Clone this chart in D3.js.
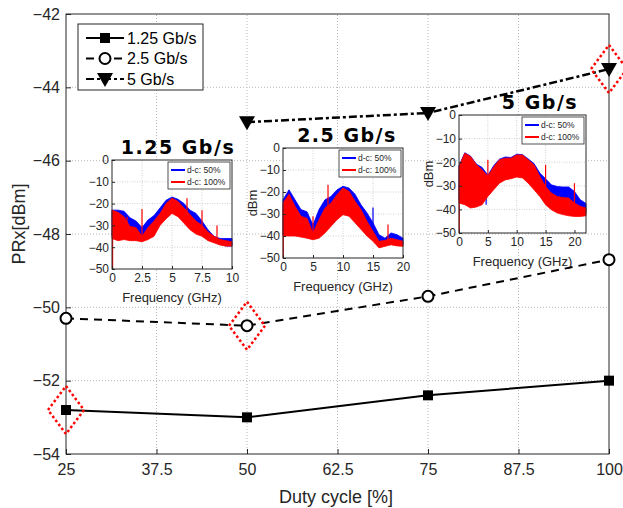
<!DOCTYPE html>
<html>
<head>
<meta charset="utf-8">
<script src="https://cdn.jsdelivr.net/npm/d3@7"></script>
<style>
body { margin: 0; background: #fff; }
text { font-family: "Liberation Sans", Arial, sans-serif; }
</style>
</head>
<body>
<svg width="623" height="508"></svg>
<script>
// main chart data
var dutyCycle = [25, 50, 75, 100];
var prx125 = [-52.8, -53.0, -52.4, -52.0];
var prx25 = [-50.3, -50.5, -49.7, -48.7];
var duty5 = [50, 75, 100];
var prx5 = [-44.95, -44.7, -43.5];
var marked = [[25, -52.8], [50, -50.5], [100, -43.5]];
var xTicks = [25, 37.5, 50, 62.5, 75, 87.5, 100];
var yTicks = [-54, -52, -50, -48, -46, -44, -42];

// inset spectra (upper / lower envelope of the noisy traces, dBm)
var s1Freq = [0, 0.5, 1, 1.5, 2, 2.5, 3, 3.5, 4, 4.5, 5, 5.5, 6, 6.5, 7, 7.5, 8, 8.5, 9, 9.5, 10];
var s1BlueTop = [-23, -23, -23.5, -26.5, -28, -31, -27.5, -25.5, -22, -18.5, -17, -18, -20, -23, -24.5, -28, -32, -35, -36, -36, -36];
var s1BlueLow = [-35, -36, -35.5, -36, -36, -36.5, -35.5, -34, -29, -26, -23.5, -25, -28, -31, -33, -34, -36, -37.5, -38.5, -39.5, -39.5];
var s1RedTop = [-23, -24, -26, -30.5, -31, -35, -31, -28, -24.5, -20, -17.5, -19, -22, -25, -28, -30, -33, -35, -36.5, -37, -37.5];
var s1RedLow = [-36, -37, -36.5, -37, -37, -37.5, -36.5, -35, -30, -27, -24.5, -26, -29, -32, -34, -35, -37, -38, -39, -39.5, -39.5];
var s1Spikes = [[0.05, -50, -26, "red"], [1.25, -36, -26, "red"], [2.5, -37, -22.5, "red"], [6.25, -28, -17.5, "red"], [7.5, -34, -23, "red"], [8.75, -37, -30, "red"]];

var s2Freq = [0, 1, 2, 3, 4, 5, 6, 7, 8, 9, 10, 11, 12, 13, 14, 15, 16, 17, 18, 19, 20];
var s2BlueTop = [-23.5, -19, -23.5, -28, -29, -35, -28, -23.5, -22, -19, -17.4, -18.2, -21, -25.8, -29.5, -34, -39.4, -41, -38.6, -39.4, -41];
var s2BlueLow = [-39, -39, -39, -39.5, -40, -40.5, -40, -37.5, -34.5, -31.5, -29.5, -30, -33, -36, -39, -41.5, -44.5, -44, -43, -43.5, -44];
var s2RedTop = [-25, -21, -26.5, -31, -32, -38.6, -32.6, -27.3, -25, -21.2, -18.2, -19.7, -24.2, -28, -33.3, -37.9, -42.4, -42, -41, -41.7, -42.4];
var s2RedLow = [-40, -40, -40, -40.5, -41, -41.7, -41, -38.6, -35.6, -32.6, -30.3, -31, -34, -37, -40, -42.4, -45.4, -44.7, -44, -44.5, -44.7];
var s2Spikes = [[0.05, -50, -28, "red"], [2.5, -40, -33, "red"], [5, -41, -31, "red"], [7.5, -30, -16.7, "red"], [12.5, -28, -24, "blue"], [15, -36, -27, "blue"], [17.5, -43, -34.8, "red"]];

var s3Freq = [0, 1, 2, 3, 4, 5, 6, 7, 8, 9, 10, 11, 12, 13, 14, 15, 16, 17, 18, 19, 20, 21, 22];
var s3BlueTop = [-21.5, -16, -17.4, -20.8, -22.2, -25.5, -21.5, -18.7, -17.8, -18, -16.6, -16.8, -18.6, -20.6, -24.6, -27, -29.6, -30.3, -30.5, -30.5, -32.4, -35.9, -37.5];
var s3BlueLow = [-36, -37, -38, -38, -37, -33.5, -30.5, -28, -26.5, -26, -25.5, -25.8, -28, -30.5, -33.5, -37, -39, -40.5, -41, -41.5, -42, -42, -41.5];
var s3RedTop = [-21.8, -16.2, -17.6, -21, -23.2, -26, -22, -19, -18.3, -18.3, -16.9, -17, -19, -21.1, -26, -30.3, -33.1, -34.5, -35, -35.2, -37.3, -38.7, -39.4];
var s3RedLow = [-37.3, -38, -39.4, -39, -38, -34.5, -31.7, -28.9, -27.5, -27, -26.3, -26.7, -28.9, -31.7, -34.5, -38, -40.1, -41.5, -42.2, -42.7, -43, -43, -42.7];
var s3Spikes = [[0.05, -50, -30, "red"], [4.7, -38, -25, "blue"], [5, -30, -19, "red"], [15, -32, -21.1, "red"], [20, -38, -28.9, "red"]];

var svg = d3.select("svg");
var x = d3.scaleLinear().domain([25, 100]).range([66, 609]);
var y = d3.scaleLinear().domain([-54, -42]).range([454, 14]);

// grid
svg.append("g").selectAll("line").data(xTicks.slice(1, -1)).enter().append("line")
    .attr("x1", function (d) { return x(d); }).attr("x2", function (d) { return x(d); })
    .attr("y1", y(-54)).attr("y2", y(-42))
    .attr("stroke", "#b8b8b8").attr("stroke-dasharray", "1,2");
svg.append("g").selectAll("line").data(yTicks.slice(1, -1)).enter().append("line")
    .attr("y1", function (d) { return y(d); }).attr("y2", function (d) { return y(d); })
    .attr("x1", x(25)).attr("x2", x(100))
    .attr("stroke", "#b8b8b8").attr("stroke-dasharray", "1,2");

// axes
var xAxis = svg.append("g").attr("transform", "translate(0," + y(-54) + ")")
    .call(d3.axisBottom(x).tickValues(xTicks).tickSize(-5).tickPadding(10).tickFormat(d3.format("")));
var yAxis = svg.append("g").attr("transform", "translate(" + x(25) + ",0)")
    .call(d3.axisLeft(y).tickValues(yTicks).tickSize(-5).tickPadding(6).tickFormat(d3.format("")));
[xAxis, yAxis].forEach(function (a) {
    a.select(".domain").remove();
    a.selectAll("line").attr("stroke", "#262626");
    a.selectAll("text").attr("font-size", 16).attr("fill", "#262626")
        .style("font-family", "'Liberation Sans', Arial, sans-serif");
});
svg.append("rect").attr("x", x(25)).attr("y", y(-42))
    .attr("width", x(100) - x(25)).attr("height", y(-54) - y(-42))
    .attr("fill", "none").attr("stroke", "#262626").attr("stroke-width", 1);

svg.append("text").attr("x", 336).attr("y", 503)
    .attr("text-anchor", "middle").attr("font-size", 18).attr("fill", "#262626").text("Duty cycle [%]");
svg.append("text").attr("transform", "translate(25,224) rotate(-90)")
    .attr("text-anchor", "middle").attr("font-size", 18).attr("fill", "#262626").text("PRx[dBm]");

// insets
function inset(o) {
    var g = svg.append("g");
    var fx = d3.scaleLinear().domain([0, o.fmax]).range([o.x0, o.x1]);
    var fy = d3.scaleLinear().domain([-50, 0]).range([o.y1, o.y0]);
    g.append("rect").attr("x", o.x0).attr("y", o.y0).attr("width", o.x1 - o.x0).attr("height", o.y1 - o.y0)
        .attr("fill", "#fff");
    g.selectAll(".gx").data(o.ticks.slice(1, -1)).enter().append("line")
        .attr("x1", fx).attr("x2", fx).attr("y1", o.y0).attr("y2", o.y1)
        .attr("stroke", "#d0d0d0").attr("stroke-dasharray", "1,1.5");
    g.selectAll(".gy").data([-40, -30, -20, -10]).enter().append("line")
        .attr("y1", fy).attr("y2", fy).attr("x1", o.x0).attr("x2", o.x1)
        .attr("stroke", "#d0d0d0").attr("stroke-dasharray", "1,1.5");

    function band(top, low, color) {
        var pts = o.freq.map(function (f, i) { return [f, top[i], low[i]]; });
        g.append("path").datum(pts)
            .attr("d", d3.area().x(function (d) { return fx(d[0]); })
                .y0(function (d) { return fy(d[2]); }).y1(function (d) { return fy(d[1]); }))
            .attr("fill", color).attr("stroke", color).attr("stroke-width", 0.8);
    }
    function spikes(color) {
        g.selectAll(null).data(o.spikes.filter(function (s) { return s[3] === color; })).enter().append("line")
            .attr("x1", function (d) { return fx(d[0]); }).attr("x2", function (d) { return fx(d[0]); })
            .attr("y1", function (d) { return fy(d[1]); }).attr("y2", function (d) { return fy(d[2]); })
            .attr("stroke", color === "red" ? "#ff0000" : "#0000ff").attr("stroke-width", 1.2);
    }
    band(o.blueTop, o.blueLow, "#0000ff");
    spikes("blue");
    band(o.redTop, o.redLow, "#ff0000");
    spikes("red");

    g.append("rect").attr("x", o.x0).attr("y", o.y0).attr("width", o.x1 - o.x0).attr("height", o.y1 - o.y0)
        .attr("fill", "none").attr("stroke", "#262626");
    var ax = g.append("g").attr("transform", "translate(0," + o.y1 + ")")
        .call(d3.axisBottom(fx).tickValues(o.ticks).tickSize(-3).tickPadding(4).tickFormat(d3.format("")));
    var ay = g.append("g").attr("transform", "translate(" + o.x0 + ",0)")
        .call(d3.axisLeft(fy).tickValues([-50, -40, -30, -20, -10, 0]).tickSize(-3).tickPadding(3));
    [ax, ay].forEach(function (a) {
        a.select(".domain").remove();
        a.selectAll("line").attr("stroke", "#262626");
        a.selectAll("text").attr("font-size", 12).attr("fill", "#262626")
            .style("font-family", "'Liberation Sans', Arial, sans-serif");
    });
    g.append("text").attr("x", (o.x0 + o.x1) / 2).attr("y", o.y1 + 33)
        .attr("text-anchor", "middle").attr("font-size", 13).attr("fill", "#262626").text("Frequency (GHz)");
    if (o.ylab) {
        g.append("text").attr("transform", "translate(" + (o.x0 - 26) + "," + ((o.y0 + o.y1) / 2) + ") rotate(-90)")
            .attr("text-anchor", "middle").attr("font-size", 13).attr("fill", "#262626").text("dBm");
    }
    g.append("text").attr("x", o.tx).attr("y", o.y0 - 6)
        .attr("text-anchor", "middle").attr("font-size", 19).attr("font-weight", "bold")
        .attr("letter-spacing", 1.5).attr("fill", "#000")
        .style("font-family", "'DejaVu Sans', sans-serif").text(o.title);

    // legend
    var lw = 62, lh = 27, lx = o.x1 - lw - 2, ly = o.y0 + 2;
    g.append("rect").attr("x", lx).attr("y", ly).attr("width", lw).attr("height", lh)
        .attr("fill", "#fff").attr("stroke", "#262626").attr("stroke-width", 0.8);
    [["d-c: 50%", "#0000ff"], ["d-c: 100%", "#ff0000"]].forEach(function (e, i) {
        var yy = ly + 8 + i * 12;
        g.append("line").attr("x1", lx + 3).attr("x2", lx + 17).attr("y1", yy).attr("y2", yy)
            .attr("stroke", e[1]).attr("stroke-width", 2);
        g.append("text").attr("x", lx + 19).attr("y", yy + 3).attr("font-size", 8.5)
            .attr("fill", "#262626").text(e[0]);
    });
}

inset({x0: 112, x1: 232, y0: 160, y1: 269, fmax: 10, ticks: [0, 2.5, 5, 7.5, 10], tx: 178, title: "1.25 Gb/s",
    freq: s1Freq, blueTop: s1BlueTop, blueLow: s1BlueLow, redTop: s1RedTop, redLow: s1RedLow, spikes: s1Spikes, ylab: false});
inset({x0: 283, x1: 403, y0: 148, y1: 258, fmax: 20, ticks: [0, 5, 10, 15, 20], tx: 347, title: "2.5 Gb/s",
    freq: s2Freq, blueTop: s2BlueTop, blueLow: s2BlueLow, redTop: s2RedTop, redLow: s2RedLow, spikes: s2Spikes, ylab: true});
inset({x0: 459, x1: 586, y0: 115, y1: 233, fmax: 22, ticks: [0, 5, 10, 15, 20], tx: 540, title: "5 Gb/s",
    freq: s3Freq, blueTop: s3BlueTop, blueLow: s3BlueLow, redTop: s3RedTop, redLow: s3RedLow, spikes: s3Spikes, ylab: true});

// series
var line = d3.line().x(function (d) { return x(d[0]); }).y(function (d) { return y(d[1]); });
var d125 = dutyCycle.map(function (d, i) { return [d, prx125[i]]; });
var d25 = dutyCycle.map(function (d, i) { return [d, prx25[i]]; });
var d5 = duty5.map(function (d, i) { return [d, prx5[i]]; });

svg.append("path").datum(d125).attr("d", line).attr("fill", "none").attr("stroke", "#000").attr("stroke-width", 2);
svg.append("path").datum(d25).attr("d", line).attr("fill", "none").attr("stroke", "#000").attr("stroke-width", 2)
    .attr("stroke-dasharray", "8,6");
svg.append("path").datum(d5).attr("d", line).attr("fill", "none").attr("stroke", "#000").attr("stroke-width", 2.5)
    .attr("stroke-dasharray", "8,3,3,3");

var sq = d3.symbol().type(d3.symbolSquare).size(100);
var tri = function (cx, cy) { return "M" + (cx - 8) + "," + (cy - 6) + "L" + (cx + 8) + "," + (cy - 6) + "L" + cx + "," + (cy + 8) + "Z"; };
function drawMarkers(data, kind) {
    data.forEach(function (d) {
        var cx = x(d[0]), cy = y(d[1]);
        if (kind === "sq") svg.append("path").attr("d", sq).attr("transform", "translate(" + cx + "," + cy + ")").attr("fill", "#000");
        if (kind === "ci") svg.append("circle").attr("cx", cx).attr("cy", cy).attr("r", 5.5)
            .attr("fill", "#fff").attr("stroke", "#000").attr("stroke-width", 2);
        if (kind === "tri") svg.append("path").attr("d", tri(cx, cy)).attr("fill", "#000");
    });
}
drawMarkers(d125, "sq");
drawMarkers(d25, "ci");
drawMarkers(d5, "tri");

// red dotted diamonds
svg.selectAll(".dia").data(marked).enter().append("path")
    .attr("d", function (d) {
        var cx = x(d[0]), cy = y(d[1]);
        return "M" + cx + "," + (cy - 24) + "L" + (cx + 18) + "," + cy + "L" + cx + "," + (cy + 24) + "L" + (cx - 18) + "," + cy + "Z";
    })
    .attr("fill", "none").attr("stroke", "#ff0000").attr("stroke-width", 2.5)
    .attr("stroke-dasharray", "2.5,2.5");

// legend
var lg = svg.append("g");
lg.append("rect").attr("x", 78).attr("y", 24).attr("width", 125).attr("height", 66)
    .attr("fill", "#fff").attr("stroke", "#262626").attr("stroke-width", 1);
var legendItems = [["1.25 Gb/s", "sq", null], ["2.5 Gb/s", "ci", "8,6"], ["5 Gb/s", "tri", "8,3,3,3"]];
legendItems.forEach(function (e, i) {
    var yy = 38 + i * 20.5;
    lg.append("line").attr("x1", 86).attr("x2", 124).attr("y1", yy).attr("y2", yy)
        .attr("stroke", "#000").attr("stroke-width", 2).attr("stroke-dasharray", e[2]);
    if (e[1] === "sq") lg.append("path").attr("d", sq).attr("transform", "translate(105," + yy + ")");
    if (e[1] === "ci") lg.append("circle").attr("cx", 105).attr("cy", yy).attr("r", 5.5)
        .attr("fill", "#fff").attr("stroke", "#000").attr("stroke-width", 2);
    if (e[1] === "tri") lg.append("path").attr("d", tri(105, yy));
    lg.append("text").attr("x", 127).attr("y", yy + 5.5).attr("font-size", 16).attr("fill", "#000").text(e[0]);
});
</script>
</body>
</html>
